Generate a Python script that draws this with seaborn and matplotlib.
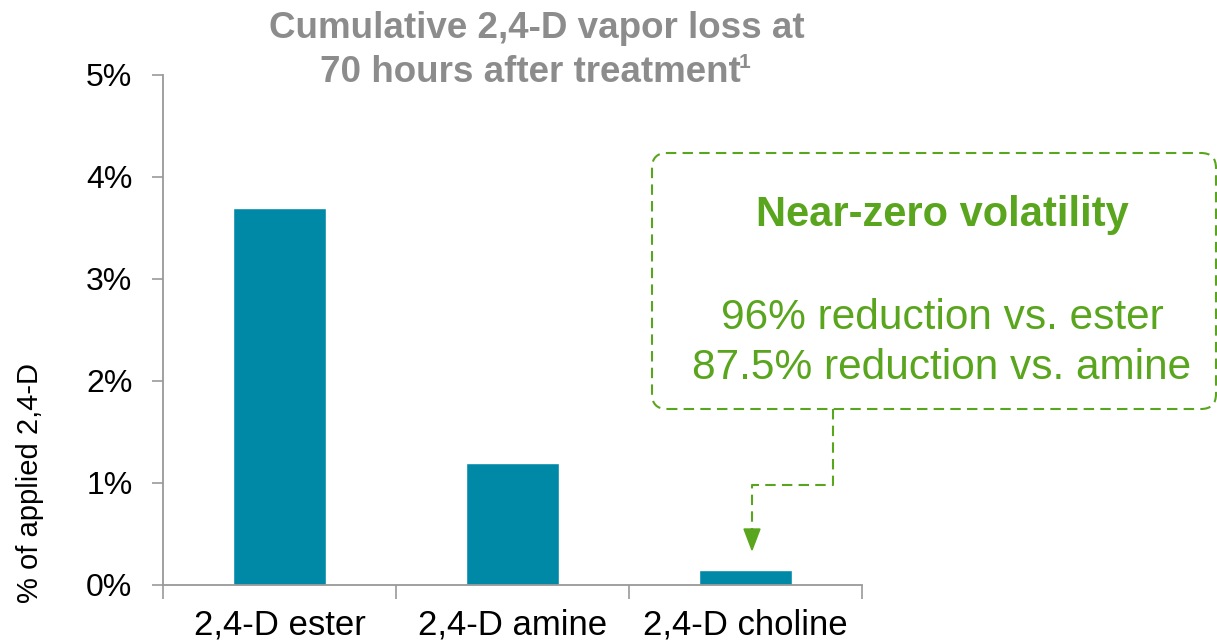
import numpy as np
import pandas as pd
import matplotlib
matplotlib.use("Agg")
import matplotlib.pyplot as plt
import seaborn as sns
from matplotlib.patches import FancyBboxPatch
from matplotlib.lines import Line2D

categorias = ["2,4-D ester", "2,4-D amine", "2,4-D choline"]
perda = [3.70, 1.20, 0.15]
yticks = [0, 1, 2, 3, 4, 5]
ytick_labels = ["0%", "1%", "2%", "3%", "4%", "5%"]

cor_barra = "#0089A7"
verde = "#5AA51E"
cinza = "#8C8C8C"

sns.set_theme(style="white")
plt.rcParams["font.family"] = ["Liberation Sans", "DejaVu Sans"]

fig = plt.figure(figsize=(12.17, 6.41), dpi=100)
ax = fig.add_axes([163 / 1217, 1 - 585 / 641, (862 - 163) / 1217, (585 - 75) / 641])

df = pd.DataFrame({"categoria": categorias, "perda": perda})
sns.barplot(data=df, x="categoria", y="perda", color=cor_barra, saturation=1,
            width=0.4, ax=ax)

ax.set_ylim(0, 5)
ax.set_xlim(-0.5, 2.5)
ax.set_yticks(yticks)
ax.set_yticklabels(ytick_labels, fontsize=23, color="black")
ax.set_xticks([-0.5, 0.5, 1.5, 2.5])
ax.set_xticklabels([])
ax.set_xticks([0, 1, 2], minor=True)
ax.set_xticklabels(categorias, minor=True, fontsize=25, color="black")
ax.tick_params(axis="x", which="major", length=10, width=1.2, color="#999999", direction="out", bottom=True)
ax.tick_params(axis="x", which="minor", length=0, pad=17)
ax.tick_params(axis="y", length=8, width=1.2, color="#999999", direction="out", left=True, pad=14)
ax.set_xlabel("")
ax.set_ylabel("% of applied 2,4-D", fontsize=21, color="black", va="center")
ax.yaxis.set_label_coords(-0.19, 0.2)

sns.despine(ax=ax)
for lado in ["left", "bottom"]:
    ax.spines[lado].set_color("#999999")
    ax.spines[lado].set_linewidth(1.3)

# titulo
fig.text(537 / 1217, 1 - 28 / 641, "Cumulative 2,4-D vapor loss at",
         ha="center", va="center", fontsize=26.5, fontweight="bold", color=cinza)
fig.text(530 / 1217, 1 - 72 / 641, "70 hours after treatment",
         ha="center", va="center", fontsize=26.5, fontweight="bold", color=cinza)
fig.text(739 / 1217, 1 - 63 / 641, "1", ha="left", va="center", fontsize=15,
         fontweight="bold", color=cinza)

# caixa de destaque (coordenadas em polegadas)
tr = fig.dpi_scale_trans
caixa = FancyBboxPatch((6.52, 2.32), 5.64, 2.56,
                       boxstyle="round,pad=0,rounding_size=0.15",
                       transform=tr, fill=False, edgecolor=verde,
                       linestyle=(0, (5, 3)), linewidth=1.5, clip_on=False)
fig.add_artist(caixa)
fig.text(9.42, 6.41 - 2.15, "Near-zero volatility", transform=tr, ha="center", va="center",
         fontsize=30, fontweight="bold", color=verde)
fig.text(9.42, 6.41 - 3.18, "96% reduction vs. ester", transform=tr, ha="center", va="center",
         fontsize=30.5, color=verde)
fig.text(9.42, 6.41 - 3.68, "87.5% reduction vs. amine", transform=tr, ha="center", va="center",
         fontsize=30.5, color=verde)

conector = Line2D([8.33, 8.33, 7.52, 7.52], [2.32, 1.56, 1.56, 1.12],
                  transform=tr, color=verde, linestyle=(0, (5, 3)), linewidth=1.5)
fig.add_artist(conector)
fig.add_artist(plt.Polygon([[7.44, 1.12], [7.60, 1.12], [7.52, 0.91]], closed=True,
                           transform=tr, color=verde))

fig.savefig("out.png", dpi=100)
